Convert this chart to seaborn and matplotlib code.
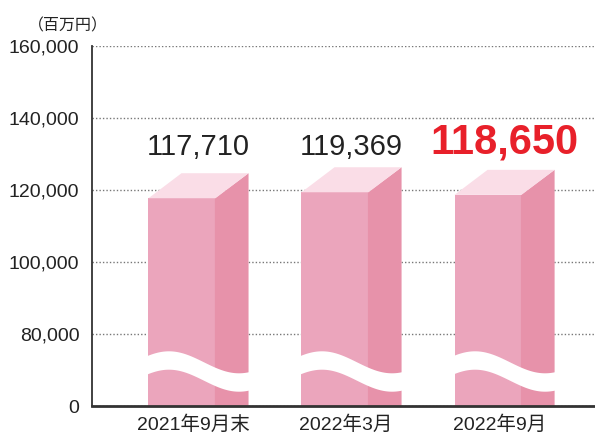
import numpy as np
import matplotlib
matplotlib.use('Agg')
import matplotlib.pyplot as plt
from matplotlib.patches import Polygon
import seaborn as sns

# ── Data ──────────────────────────────
PERIODS = ['2021年9月末', '2022年3月', '2022年9月']
VALUES = [117710, 119369, 118650]
VALUE_LABELS = ['117,710', '119,369', '118,650']
Y_TICKS = [60000, 80000, 100000, 120000, 140000, 160000]
Y_TICK_LABELS = ['0', '80,000', '100,000', '120,000', '140,000', '160,000']

# ── Style ─────────────────────────────
sns.set_style('white')
plt.rcParams['font.family'] = ['Liberation Sans', 'Noto Sans CJK JP']

FRONT = '#EBA5BC'
SIDE = '#E792AA'
TOP = '#FADDE7'
INK = '#222222'

BAR_W = 0.438      # front face width (category units)
SIDE_W = 0.216     # side face width
DEPTH = 6950       # vertical lift of the back edge (data units)
PX = 20000 / 72    # data units per pixel (vertical)

fig = plt.figure(figsize=(5.95, 4.40), dpi=100)
ax = fig.add_axes([92 / 595, 34 / 440, 503 / 595, 360 / 440])

sns.barplot(x=PERIODS, y=VALUES, color=FRONT, width=BAR_W,
            saturation=1, ax=ax, zorder=2, linewidth=0)

ax.set_ylim(60000, 160000)
ax.set_xlim(-0.588, 2.699)

# ── 3D faces + wave break ─────────────
for i, bar in enumerate(ax.patches):
    x0 = bar.get_x()
    x1 = x0 + bar.get_width()
    top = bar.get_height()
    ax.add_patch(Polygon([(x1 - 0.004, 0), (x1 - 0.004, top),
                          (x1 + SIDE_W, top + DEPTH), (x1 + SIDE_W, 0)],
                         closed=True, facecolor=SIDE, edgecolor='none',
                         zorder=2))
    ax.add_patch(Polygon([(x0, top), (x1, top), (x1 + SIDE_W, top + DEPTH),
                          (x0 + SIDE_W, top + DEPTH)], closed=True,
                         facecolor=TOP, edgecolor='none', zorder=2))

    xs = np.linspace(x0 - 0.01, x1 + SIDE_W + 0.01, 200)
    t = (xs - x0) / (x1 + SIDE_W - x0)
    center_px = 371 - 11 * np.cos(2 * np.pi * (t - 0.2) / 1.4)
    center = 60000 + (406 - center_px) * PX
    ax.fill_between(xs, center - 9.2 * PX, center + 9.2 * PX,
                    color='white', linewidth=0, zorder=3)

# ── Value labels ──────────────────────
for i, lab in enumerate(VALUE_LABELS):
    xc = i + SIDE_W / 2
    if i == len(VALUE_LABELS) - 1:
        ax.text(xc, 133200, lab, ha='center', va='center',
                fontsize=30, fontweight='bold', color='#E8202A', zorder=5)
    else:
        ax.text(xc, 132000, lab, ha='center', va='center',
                fontsize=21, color=INK, zorder=5)

# ── Axes ──────────────────────────────
ax.set_yticks(Y_TICKS)
ax.set_yticklabels(Y_TICK_LABELS, fontsize=14, color=INK)
ax.tick_params(axis='y', length=0, pad=9)

ax.set_xticks([i + SIDE_W / 2 - 0.035 for i in range(len(PERIODS))])
ax.set_xticklabels(PERIODS, fontsize=14, color=INK)
ax.tick_params(axis='x', length=0, pad=7)
ax.set_xticks([0.521, 1.632], minor=True)
ax.tick_params(axis='x', which='minor', direction='in', length=6,
               width=1, color='#444444')
ax.set_xlabel('')
ax.set_ylabel('')

ax.yaxis.grid(True, linestyle=(0, (1, 1.5)), color='#777777', linewidth=1)
ax.xaxis.grid(False)
ax.set_axisbelow(True)

sns.despine(ax=ax, top=True, right=True)
ax.spines['left'].set_color('#333333')
ax.spines['left'].set_linewidth(1.3)
ax.spines['bottom'].set_color('#333333')
ax.spines['bottom'].set_linewidth(2)

fig.text(68 / 595, 1 - 26 / 440, '（百万円）', ha='center', va='center',
         fontsize=11.5, color=INK, family=['Noto Sans CJK JP'])

plt.savefig('out.png', dpi=100, facecolor='white')
plt.close()
